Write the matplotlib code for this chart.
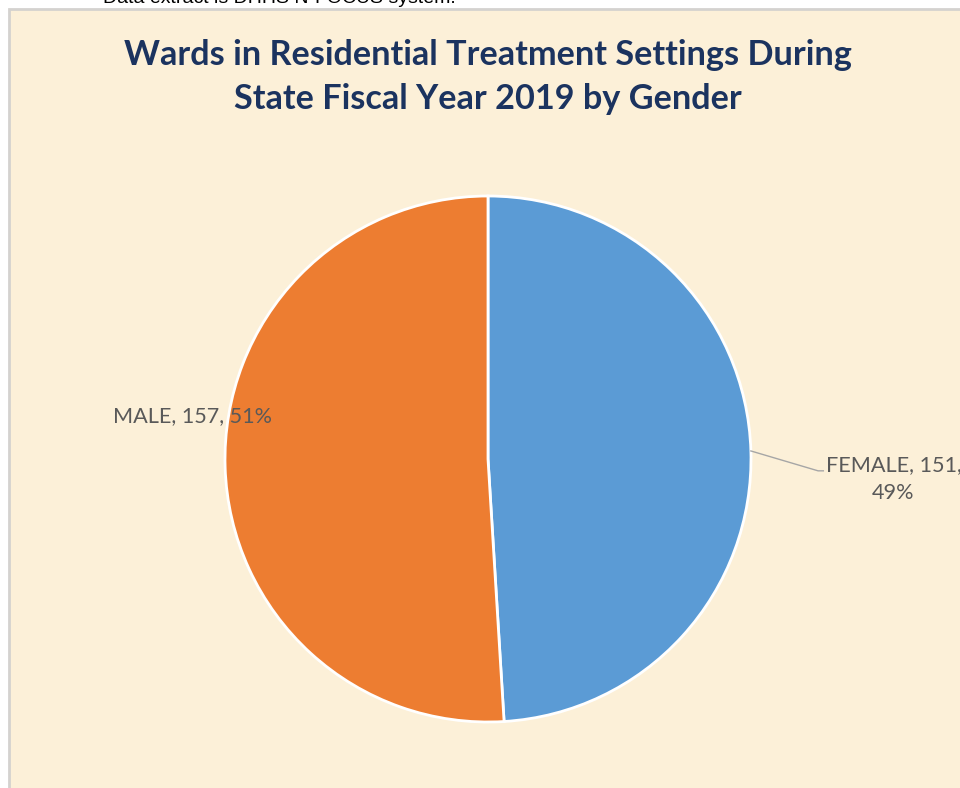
import matplotlib.pyplot as plt
import numpy as np
from matplotlib.patches import Rectangle

# Data
genders = ["FEMALE", "MALE"]
counts = [151, 157]
colors = ["#5B9BD5", "#ED7D31"]
title = "Wards in Residential Treatment Settings During\nState Fiscal Year 2019 by Gender"
note = "Data extract is DHHS N-FOCUS system."

W, H = 960, 788
fig = plt.figure(figsize=(W / 100, H / 100), dpi=100)
fig.patch.set_facecolor("white")

# chart frame (cut off at right and bottom)
fig.patches.append(Rectangle((9 / W, -0.01), 1.0, 1 - 9 / H + 0.01, transform=fig.transFigure,
                             facecolor="#fcf0d8", edgecolor="#d4d2cf", linewidth=2, zorder=0))

# text above the chart, only its lower part is visible
fig.text(103 / W, 1 - 3 / H, note, fontsize=14, color="black", family="Liberation Sans",
         ha="left", va="baseline")

fig.text(488 / W, 1 - 77 / H, title, fontsize=24.7, fontweight="bold", color="#1B335F",
         family="Lato", ha="center", va="center", linespacing=1.45)

# pie
cx, cy, r = 488, 459, 263
ax = fig.add_axes([(cx - r) / W, (H - cy - r) / H, 2 * r / W, 2 * r / H], zorder=3)
ax.set_facecolor("none")
wedges, _ = ax.pie(counts, colors=colors, startangle=90, counterclock=False,
                   wedgeprops=dict(edgecolor="white", linewidth=2))
ax.set_xlim(-1, 1)
ax.set_ylim(-1, 1)
ax.axis("off")

total = sum(counts)
pcts = [round(100 * c / total) for c in counts]

# female label with leader line
w = wedges[0]
mid = np.deg2rad((w.theta1 + w.theta2) / 2)
ex, ey = np.cos(mid), np.sin(mid)
ax.plot([ex, 1.255, 1.275], [ey, -0.045, -0.045], color="#a6a6a6", lw=1, clip_on=False)
ax.text(1.542, -0.076, f"{genders[0]}, {counts[0]},\n{pcts[0]}%", fontsize=15.6, color="#595959",
        family="Lato", ha="center", va="center", linespacing=1.5)

# male label
ax.text(-1.122, 0.165, f"{genders[1]}, {counts[1]}, {pcts[1]}%", fontsize=15.6, color="#595959",
        family="Lato", ha="center", va="center")

fig.savefig("out.png", dpi=100, facecolor=fig.get_facecolor())
